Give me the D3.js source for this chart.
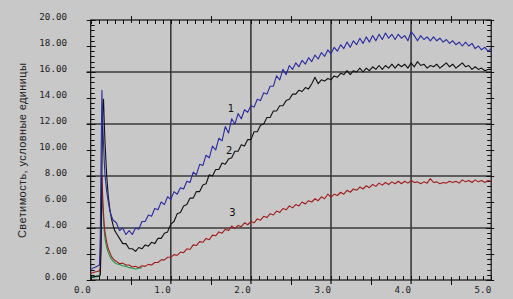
<!DOCTYPE html>
<html><head><meta charset="utf-8">
<script src="https://cdn.jsdelivr.net/npm/d3@7"></script>
<style>
html,body{margin:0;padding:0;background:#c8c8c8;}
svg{display:block;}
</style></head>
<body>
<svg id="chart" width="513" height="299"></svg>
<script>
// time axis samples (x values)
const T = [0,0.04,0.08,0.11,0.12,0.13,0.14,0.15,0.16,0.17,0.18,0.20,0.22,0.24,0.26,0.28,0.30,
0.32,0.36,0.40,0.44,0.48,0.52,0.56,0.60,0.64,0.68,
0.72,0.76,0.80,0.84,0.88,0.92,0.96,1.00,1.04,1.08,
1.12,1.16,1.20,1.24,1.28,1.32,1.36,1.40,1.44,1.48,
1.52,1.56,1.60,1.64,1.68,1.72,1.76,1.80,1.84,1.88,
1.92,1.96,2.00,2.04,2.08,2.12,2.16,2.20,2.24,2.28,
2.32,2.36,2.40,2.44,2.48,2.52,2.56,2.60,2.64,2.68,
2.72,2.76,2.80,2.84,2.88,2.92,2.96,3.00,3.04,3.08,
3.12,3.16,3.20,3.24,3.28,3.32,3.36,3.40,3.44,3.48,
3.52,3.56,3.60,3.64,3.68,3.72,3.76,3.80,3.84,3.88,
3.92,3.96,4.00,4.04,4.08,4.12,4.16,4.20,4.24,4.28,
4.32,4.36,4.40,4.44,4.48,4.52,4.56,4.60,4.64,4.68,
4.72,4.76,4.80,4.84,4.88,4.92,4.96,5.00];

// series 1 (blue)
const series1 = [0.8,0.95,1.05,1.15,3.5,9.5,14.6,12.0,10.5,9.0,8.0,6.8,6.0,5.3,4.9,4.6,4.5,
4.4,3.8,4.0,3.5,3.8,3.5,4.0,3.9,4.5,4.5,
5.0,4.9,5.5,5.4,6.0,5.8,6.4,6.2,6.8,6.6,
7.1,7.0,7.6,7.5,8.3,8.1,8.9,8.8,9.6,9.4,
10.3,10.0,10.9,10.7,11.8,11.3,12.4,12.0,12.8,12.4,
13.1,12.9,13.4,13.3,13.9,13.8,14.4,14.3,14.9,14.9,
15.7,15.4,16.2,15.8,16.5,16.2,16.7,16.4,16.9,16.6,
17.1,16.8,17.3,17.0,17.5,17.2,17.7,17.4,17.9,17.6,
18.1,17.8,18.3,17.9,18.4,18.1,18.6,18.2,18.7,18.3,
18.8,18.4,18.9,18.5,19.0,18.6,18.9,18.5,18.9,18.6,
18.8,18.4,19.1,18.8,18.4,18.8,18.5,18.7,18.4,18.7,
18.4,18.6,18.3,18.5,18.2,18.4,18.1,18.3,18.0,18.3,
18.0,18.2,17.8,18.0,17.7,17.9,17.6,17.8];

// series 2 (black)
const series2 = [0.2,0.25,0.3,0.3,0.4,2.5,8.5,13.2,13.9,12.0,10.4,8.0,6.4,5.4,4.7,4.2,3.8,
3.6,3.2,2.8,2.8,2.4,2.4,2.2,2.5,2.4,2.7,
2.6,2.9,2.8,3.2,3.2,3.6,3.7,4.3,4.5,5.1,
5.2,5.7,5.8,6.3,6.3,6.8,6.8,7.3,7.4,8.1,
8.0,8.5,8.5,9.0,8.9,9.3,9.4,9.9,9.9,10.4,
10.3,10.8,10.8,11.4,11.4,11.9,12.0,12.5,12.5,13.0,
13.0,13.4,13.4,13.8,13.9,14.3,14.3,14.6,14.5,14.8,
14.7,15.1,15.6,15.1,15.4,15.3,15.5,15.4,15.7,15.6,
15.9,15.8,16.1,15.8,16.1,16.0,16.3,16.0,16.3,16.1,
16.4,16.2,16.5,16.2,16.5,16.3,16.6,16.3,16.6,16.4,
16.6,16.3,16.7,16.4,16.8,16.5,16.6,16.3,16.5,16.4,
16.6,16.3,16.5,16.7,16.4,16.6,16.3,16.5,16.7,16.4,
16.5,16.2,16.4,16.2,16.3,16.1,16.2,16.2];

// series 3 (red)
const series3 = [0.5,0.6,0.65,0.7,1.0,5.0,8.0,6.4,5.1,4.2,3.6,2.9,2.4,2.1,1.8,1.65,1.5,
1.45,1.25,1.3,1.15,1.15,1.0,1.05,0.95,1.1,1.05,
1.2,1.15,1.35,1.35,1.55,1.55,1.75,1.75,1.95,1.9,
2.15,2.1,2.4,2.35,2.7,2.65,2.95,2.9,3.2,3.1,
3.45,3.4,3.7,3.6,3.9,3.8,4.15,3.95,4.2,4.1,
4.4,4.25,4.5,4.4,4.7,4.6,4.9,4.8,5.1,5.0,
5.3,5.2,5.5,5.4,5.7,5.55,5.8,5.7,6.0,5.85,
6.1,6.0,6.25,6.1,6.4,6.25,6.6,6.35,6.6,6.5,
6.75,6.6,6.9,6.75,7.0,6.9,7.15,7.0,7.25,7.1,
7.35,7.2,7.45,7.3,7.5,7.35,7.55,7.4,7.6,7.4,
7.6,7.45,7.65,7.5,7.55,7.4,7.55,7.45,7.8,7.5,
7.55,7.4,7.5,7.45,7.6,7.5,7.6,7.45,7.7,7.55,
7.65,7.5,7.7,7.55,7.65,7.5,7.65,7.6];

// series 4 (green), only the initial part
const series4 = [0.2,0.2,0.25,0.3,0.8,4.0,6.8,5.6,4.5,3.7,3.1,2.5,2.1,1.8,1.6,1.45,1.35,
1.25,1.2,1.1,1.05,0.95,0.9,0.85,0.9,0.95];

const yTickLabels = ["0.00","2.00","4.00","6.00","8.00","10.00","12.00","14.00","16.00","18.00","20.00"];
const yTickValues = [0,2,4,6,8,10,12,14,16,18,20];
const xTickLabels = ["0.0","1.0","2.0","3.0","4.0","5.0"];
const xTickValues = [0,1,2,3,4,5];
const yGridValues = [4,8,12,16];
const xGridValues = [1,2,3,4];
const curveLabels = [{t:"1",x:1.75,y:12.9},{t:"2",x:1.73,y:9.7},{t:"3",x:1.77,y:4.9}];
const yTitle = "Светимость, условные единицы";

const svg = d3.select("#chart");
const L = 90.7, R = 491.2, TOP = 20, BOT = 280;
const x = d3.scaleLinear().domain([0,5]).range([L,R]);
const y = d3.scaleLinear().domain([0,20]).range([BOT,TOP]);

svg.append("rect").attr("width",513).attr("height",299).attr("fill","#c8c8c8");

// grid
const g = svg.append("g");
g.selectAll(".hg").data(yGridValues).enter().append("line")
  .attr("x1",L-4).attr("x2",R).attr("y1",d=>y(d)).attr("y2",d=>y(d))
  .attr("stroke","#3a3a3a").attr("stroke-width",1.6);
g.selectAll(".vg").data(xGridValues).enter().append("line")
  .attr("x1",d=>x(d)).attr("x2",d=>x(d)).attr("y1",TOP).attr("y2",BOT+4)
  .attr("stroke","#3a3a3a").attr("stroke-width",1.6);

// frame
svg.append("rect").attr("x",L).attr("y",TOP).attr("width",R-L).attr("height",BOT-TOP)
  .attr("fill","none").attr("stroke","#111").attr("stroke-width",1.2);

// minor ticks x (bottom & top)
const xMinor = d3.range(0,5.001,0.1);
const tk = svg.append("g").attr("stroke","#111").attr("stroke-width",1);
xMinor.forEach(v=>{
  const isHalf = Math.abs(v*2-Math.round(v*2))<1e-6 && Math.abs(v-Math.round(v))>1e-6;
  const xx = Math.round(x(v))+0.5;
  tk.append("line").attr("x1",xx).attr("x2",xx).attr("y1",BOT-(isHalf?3:4)).attr("y2",isHalf?BOT+5:BOT);
  tk.append("line").attr("x1",xx).attr("x2",xx).attr("y1",TOP+(isHalf?3:4)).attr("y2",isHalf?TOP-4:TOP);
});
const yMinor = d3.range(0,20.001,0.4);
yMinor.forEach(v=>{
  const yy = Math.round(y(v))+0.5;
  tk.append("line").attr("x1",L).attr("x2",L+4).attr("y1",yy).attr("y2",yy);
  tk.append("line").attr("x1",R-4).attr("x2",R).attr("y1",yy).attr("y2",yy);
});
yTickValues.forEach(v=>{
  const yy = Math.round(y(v))+0.5;
  tk.append("line").attr("x1",L-4).attr("x2",L+5).attr("y1",yy).attr("y2",yy);
  tk.append("line").attr("x1",R-5).attr("x2",R+3).attr("y1",yy).attr("y2",yy);
});

// tick labels
const lab = svg.append("g").attr("font-family","'DejaVu Sans Mono', monospace").attr("font-size",9.2).attr("fill","#222");
lab.selectAll(".yl").data(yTickValues).enter().append("text")
  .attr("x",67).attr("y",d=>y(d)).attr("text-anchor","end").text((d,i)=>yTickLabels[i]);
lab.selectAll(".xl").data(xTickValues).enter().append("text")
  .attr("x",d=>x(d)).attr("y",293).attr("text-anchor","end").text((d,i)=>xTickLabels[i]);

// y title
svg.append("text").attr("transform","translate(26,150.5) rotate(-90)")
  .attr("text-anchor","middle").attr("font-family","'Liberation Sans', Arial, sans-serif")
  .attr("font-size",11).attr("fill","#222")
  .attr("textLength",175).attr("lengthAdjust","spacing").text(yTitle);

// series
const line = d3.line().x(d=>x(d[0])).y(d=>y(d[1]));
const mk = arr => arr.map((v,i)=>[T[i],v]);
const ser = [
  {d:series4,c:"#1f9a4a"},
  {d:series3,c:"#a01c1c"},
  {d:series2,c:"#111111"},
  {d:series1,c:"#2a2aa0"}
];
ser.forEach(s=>{
  svg.append("path").attr("d",line(mk(s.d))).attr("fill","none")
    .attr("stroke",s.c).attr("stroke-width",1.1).attr("stroke-linejoin","round");
});

// curve labels
svg.selectAll(".cl").data(curveLabels).enter().append("text")
  .attr("x",d=>x(d.x)).attr("y",d=>y(d.y)).attr("text-anchor","middle")
  .attr("font-family","'DejaVu Sans', sans-serif").attr("font-size",10).attr("fill","#111")
  .text(d=>d.t);
</script>
</body></html>
